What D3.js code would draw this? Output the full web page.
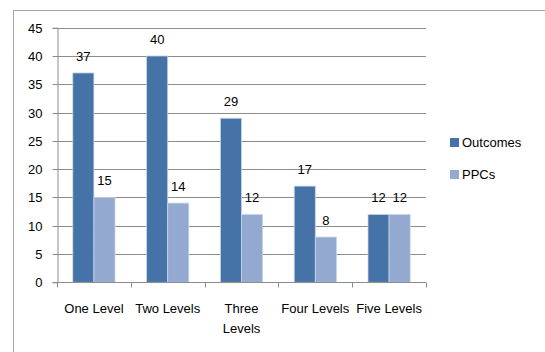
<!DOCTYPE html>
<html><head><meta charset="utf-8">
<script src="https://cdn.jsdelivr.net/npm/d3@7"></script>
<style>
html,body{margin:0;padding:0;background:#fff;}
text{font-family:"Liberation Sans",Arial,sans-serif;fill:#000;}
</style></head>
<body>
<svg id="c" width="545" height="352"></svg>
<script>
const categories = [["One Level"], ["Two Levels"], ["Three", "Levels"], ["Four Levels"], ["Five Levels"]];
const seriesNames = ["Outcomes", "PPCs"];
const outcomes = [37, 40, 29, 17, 12];
const ppcs = [15, 14, 12, 8, 12];
const yTicks = [0, 5, 10, 15, 20, 25, 30, 35, 40, 45];
const colors = ["#4572A7", "#94A9D0"];

(function() {
const svg = d3.select("#c");
// outer chart border
svg.append("rect").attr("x", 13.5).attr("y", 10.5).attr("width", 560).attr("height", 360)
  .attr("fill", "none").attr("stroke", "#a6a6a6").attr("stroke-width", 1);

const pl = 57, pr = 426, pt = 27.7, pb = 282.3;
const x0 = d3.scaleBand().domain(d3.range(categories.length)).range([pl, pr]).paddingInner(0).paddingOuter(0);
const bw = x0.bandwidth() / 3.5;
const y = d3.scaleLinear().domain([0, 45]).range([pb, pt]);

// gridlines
svg.append("g").selectAll("line").data(yTicks).join("line")
  .attr("x1", pl).attr("x2", pr)
  .attr("y1", d => Math.round(y(d)) + 0.5).attr("y2", d => Math.round(y(d)) + 0.5)
  .attr("stroke", "#8c8c8c").attr("stroke-width", 1);

// y axis
const yAxis = d3.axisLeft(y).tickValues(yTicks).tickSize(5).tickPadding(10);
const gy = svg.append("g").attr("transform", `translate(${pl + 0.5},0)`).call(yAxis);
gy.selectAll(".tick").attr("transform", d => `translate(0,${Math.round(y(d)) + 0.5})`);
gy.select(".domain").attr("stroke", "#8c8c8c");
gy.selectAll(".tick line").attr("stroke", "#8c8c8c");
gy.selectAll("text").attr("font-size", 13).attr("font-family", "Liberation Sans, Arial, sans-serif").attr("fill", "#000");

// bars
const data = categories.map((c, i) => ({i, vals: [outcomes[i], ppcs[i]]}));
const groups = svg.append("g").selectAll("g").data(data).join("g");
groups.each(function(d) {
  const g = d3.select(this);
  const cx = x0(d.i) + x0.bandwidth() / 2;
  d.vals.forEach((v, k) => {
    const bx = cx - bw + k * bw;
    g.append("rect").attr("x", bx).attr("y", y(v)).attr("width", bw).attr("height", y(0) - y(v))
      .attr("fill", colors[k]).attr("stroke", "#c8d4e6").attr("stroke-width", 0.8);
    g.append("text").attr("x", bx + bw / 2).attr("y", y(v) - 12).attr("text-anchor", "middle")
      .attr("font-size", 13).text(v);
  });
});

// x axis
const gx = svg.append("g").attr("transform", `translate(0,${Math.round(pb) + 0.5})`);
gx.append("line").attr("x1", pl).attr("x2", pr).attr("stroke", "#8c8c8c");
const bounds = d3.range(categories.length + 1).map(i => i < categories.length ? x0(i) : pr);
gx.selectAll("line.t").data(bounds).join("line").attr("class", "t")
  .attr("x1", d => Math.round(d) + 0.5).attr("x2", d => Math.round(d) + 0.5).attr("y1", 0).attr("y2", 5)
  .attr("stroke", "#8c8c8c");
gx.selectAll("text").data(categories).join("text")
  .attr("x", (d, i) => x0(i) + x0.bandwidth() / 2)
  .attr("y", 30).attr("text-anchor", "middle").attr("font-size", 13)
  .each(function(d) {
    const t = d3.select(this);
    d.forEach((s, j) => t.append("tspan").attr("x", t.attr("x")).attr("dy", j === 0 ? 0 : 20).text(s));
  });

// legend
const lg = svg.append("g").selectAll("g").data(seriesNames).join("g")
  .attr("transform", (d, i) => `translate(450,${138 + i * 32})`);
lg.append("rect").attr("width", 9).attr("height", 9).attr("fill", (d, i) => colors[i]);
lg.append("text").attr("x", 12).attr("y", 9).attr("font-size", 13).text(d => d);
})();
</script>
</body></html>
